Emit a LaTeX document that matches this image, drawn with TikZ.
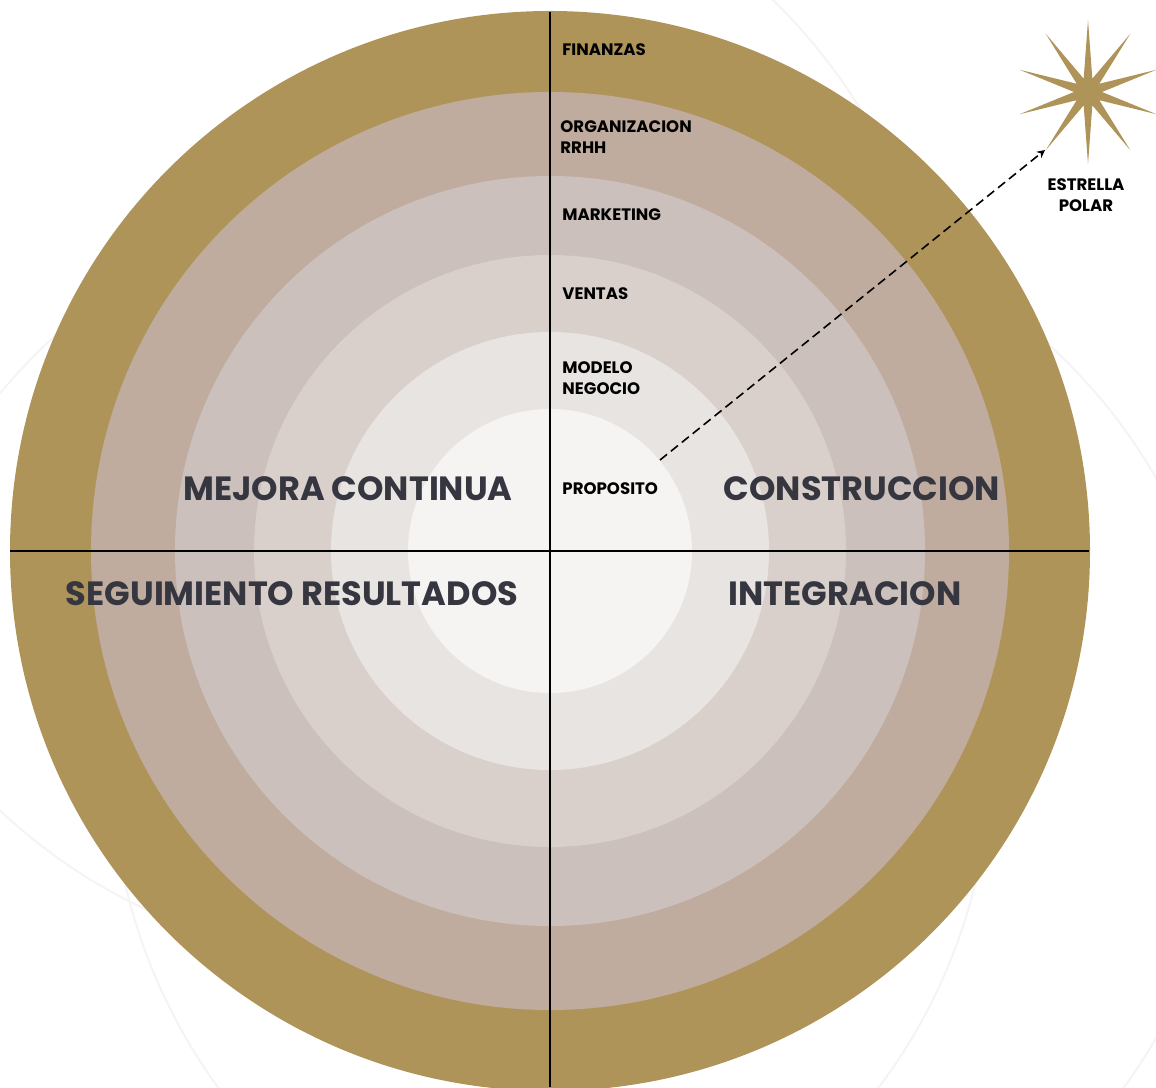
\documentclass[tikz,border=0pt]{standalone}
\usepackage{fontspec}
\setmainfont{Poppins}
\usetikzlibrary{arrows.meta}

\definecolor{oro}{HTML}{AF9459}
\definecolor{anillo1}{HTML}{C0AC9E}
\definecolor{anillo2}{HTML}{CBC0BB}
\definecolor{anillo3}{HTML}{D9D0CB}
\definecolor{anillo4}{HTML}{E8E4E2}
\definecolor{nucleo}{HTML}{F5F4F2}
\definecolor{tinta}{HTML}{35363F}
\definecolor{trazo}{HTML}{F4F4F4}

\begin{document}
\begin{tikzpicture}[x=0.5pt,y=0.5pt]
\useasboundingbox (0,0) rectangle (1156,1087);

% faint background arcs
\begin{scope}
    \clip (0,0) rectangle (1156,1087);
    \draw[trazo, line width=1pt] (383,685) circle (560);
    \draw[trazo, line width=1pt] (431,336) circle (560);
    \draw[trazo, line width=1pt] (671,329) circle (560);
\end{scope}

% rings
\begin{scope}
    \clip (0,0) rectangle (1156,1087);
    \fill[oro]     (550,536) circle (540);
    \fill[anillo1] (550,536) circle (459);
    \fill[anillo2] (550,536) circle (375);
    \fill[anillo3] (550,536) circle (296);
    \fill[anillo4] (550,536) circle (219);
    \fill[nucleo]  (550,536) circle (142);
    \draw[line width=1pt] (550,1075) -- (550,0);
    \draw[line width=1pt] (10,536) -- (1089,536);
\end{scope}

% polar star
\fill[oro] plot[samples at={0,...,19}, variable=\k]
    ({1088+(mod(\k,2)==0 ? 72 : 14)*cos(90+18*\k)},
     {995+(mod(\k,2)==0 ? 72 : 14)*sin(90+18*\k)}) -- cycle;

\begin{scope}[every node/.style={anchor=west,inner sep=0pt,align=left,
              font=\fontsize{8.3}{10.5}\selectfont\bfseries}]
    \node (finanzas)   at (562,1037) {FINANZAS};
    \node (organizacion) at (560,950) {ORGANIZACION\\RRHH};
    \node (marketing)  at (562,872) {MARKETING};
    \node (ventas)     at (562,793) {VENTAS};
    \node (modelo)     at (562,709) {MODELO\\NEGOCIO};
    \node (proposito)  at (562,598) {PROPOSITO};
\end{scope}

\node[inner sep=0pt, align=center, font=\fontsize{8.3}{10.5}\selectfont\bfseries]
    (estrella) at (1086,892) {ESTRELLA\\POLAR};

\begin{scope}[every node/.style={inner sep=0pt,text=tinta,
              font=\fontsize{16.8}{20}\selectfont\bfseries}]
    \node (mejora)       at (348,598) {MEJORA CONTINUA};
    \node (construccion) at (862,598) {CONSTRUCCION};
    \node (seguimiento)  at (292,493) {SEGUIMIENTO RESULTADOS};
    \node (integracion)  at (845,493) {INTEGRACION};
\end{scope}

\coordinate (desde) at (660,627);
\coordinate (hacia) at (1045,937);
\begin{scope}[>={Stealth[black,length=4pt,width=4pt]}]
    \draw[->, line width=0.8pt, dash pattern=on 4.5pt off 2.5pt] (desde) -- (hacia);
\end{scope}
\end{tikzpicture}
\end{document}
